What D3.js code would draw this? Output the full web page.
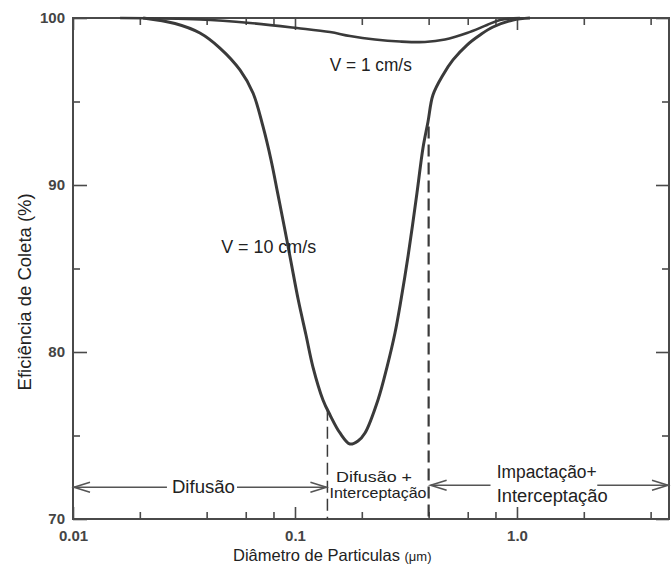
<!DOCTYPE html>
<html>
<head>
<meta charset="utf-8">
<script src="https://cdnjs.cloudflare.com/ajax/libs/d3/7.8.5/d3.min.js"></script>
<style>
  html, body { margin: 0; padding: 0; background: #fff; }
  svg { display: block; }
  text { font-family: "Liberation Sans", Arial, Helvetica, sans-serif; }
</style>
</head>
<body>
<div id="chart"></div>
<script>
// ---------- data ----------
// V = 10 cm/s curve: particle diameter (µm) and collection efficiency (%)
const v10Diam = [0.0207, 0.0288, 0.0373, 0.0459, 0.0565, 0.0647, 0.0718, 0.0780, 0.0836, 0.0895,
                 0.0956, 0.1035, 0.1121, 0.1205, 0.1337, 0.1438, 0.1595, 0.1769, 0.1922, 0.2067,
                 0.2365, 0.2597, 0.2821, 0.3002, 0.3228, 0.3544, 0.3772, 0.3972, 0.4183, 0.4642,
                 0.5149, 0.5954, 0.6815, 0.7798, 0.9594, 1.144];
const v10Eff  = [100, 99.67, 99.10, 98.20, 96.89, 95.51, 93.49, 91.50, 89.50, 87.50,
                 85.51, 83.11, 81.02, 79.10, 77.13, 76.23, 75.15, 74.49, 74.67, 75.15,
                 77.13, 79.10, 81.14, 83.11, 85.70, 89.52, 92.22, 93.77, 95.39, 96.59,
                 97.49, 98.38, 98.98, 99.46, 99.88, 100];
// V = 1 cm/s curve
const v1Diam = [0.0163, 0.0373, 0.0627, 0.1021, 0.1438, 0.1769, 0.2293, 0.2971, 0.3851, 0.4739,
                0.5954, 0.7326, 0.8383, 1.031];
const v1Eff  = [100, 99.91, 99.70, 99.40, 99.16, 98.92, 98.71, 98.59, 98.56, 98.71,
                99.10, 99.58, 99.88, 100];

// regime boundaries (µm) and where the dashed lines start (%)
const boundaries = [0.14, 0.4];
const boundaryTop = [76.6, 93.5];

// axes
const xDomain = [0.01, 4.84];
const yDomain = [70, 100];
const xMinorTicks = [0.02, 0.04, 0.06, 0.08, 0.2, 0.4, 0.6, 0.8, 2, 4];
const xMajorTicks = [0.01, 0.1, 1];
const xTickLabels = ["0.01", "0.1", "1.0"];
const yMinorTicks = [75, 85, 95];
const yMajorTicks = [70, 80, 90, 100];
const yTickLabels = ["70", "80", "90", "100"];

// texts
const xTitle = "Diâmetro de Particulas";
const xUnit = "(μm)";
const yTitle = "Eficiência de Coleta (%)";
const labelV1 = "V = 1 cm/s";
const labelV10 = "V = 10 cm/s";
const regionDiff = "Difusão";
const regionMid = ["Difusão +", "Interceptação"];
const regionRight = ["Impactação+", "Interceptação"];

// ---------- drawing ----------
const W = 671, H = 566;
const margin = {top: 18, right: 2, bottom: 47, left: 73};
const iw = W - margin.left - margin.right;
const ih = H - margin.top - margin.bottom;

const svg = d3.select("#chart").append("svg").attr("width", W).attr("height", H);
const g = svg.append("g").attr("transform", `translate(${margin.left},${margin.top})`);

const x = d3.scaleLog().domain(xDomain).range([0, iw]);
const y = d3.scaleLinear().domain(yDomain).range([ih, 0]);

const ink = "#3a3a3a";

// ticks (inward) via d3 axes
function styleAxis(sel) {
  sel.select(".domain").remove();
  sel.selectAll(".tick line").attr("stroke", "#4a4a4a").attr("stroke-width", 1.6);
}
const fmtX = (d) => xTickLabels[xMajorTicks.indexOf(d)];
const fmtY = (d) => yTickLabels[yMajorTicks.indexOf(d)];

g.append("g").attr("transform", `translate(0,${ih})`)
  .call(d3.axisBottom(x).tickValues(xMinorTicks).tickSize(-7).tickFormat(""))
  .call(styleAxis);
g.append("g").attr("transform", `translate(0,${ih})`)
  .call(d3.axisBottom(x).tickValues(xMajorTicks).tickSize(-12).tickPadding(11).tickFormat(fmtX))
  .call(styleAxis)
  .call(s => s.selectAll("text").attr("font-size", 15).attr("font-weight", "bold").attr("fill", "#444"));

g.append("g")
  .call(d3.axisTop(x).tickValues(xMinorTicks).tickSize(-7).tickFormat(""))
  .call(styleAxis);
g.append("g")
  .call(d3.axisTop(x).tickValues(xMajorTicks).tickSize(-12).tickFormat(""))
  .call(styleAxis);

g.append("g")
  .call(d3.axisLeft(y).tickValues(yMinorTicks).tickSize(-7).tickFormat(""))
  .call(styleAxis);
g.append("g")
  .call(d3.axisLeft(y).tickValues(yMajorTicks).tickSize(-14).tickPadding(8).tickFormat(fmtY))
  .call(styleAxis)
  .call(s => s.selectAll("text").attr("font-size", 15).attr("font-weight", "bold").attr("fill", "#444"));

g.append("g").attr("transform", `translate(${iw},0)`)
  .call(d3.axisRight(y).tickValues(yMinorTicks).tickSize(-7).tickFormat(""))
  .call(styleAxis);
g.append("g").attr("transform", `translate(${iw},0)`)
  .call(d3.axisRight(y).tickValues(yMajorTicks).tickSize(-13).tickFormat(""))
  .call(styleAxis);

// frame
g.append("rect").attr("x", x(xDomain[0])).attr("y", y(yDomain[1]))
  .attr("width", x(xDomain[1]) - x(xDomain[0])).attr("height", y(yDomain[0]) - y(yDomain[1]))
  .attr("fill", "none").attr("stroke", "#4a4a4a").attr("stroke-width", 2);

// dashed boundaries
g.selectAll(".bound").data(boundaries).join("line")
  .attr("x1", d => x(d)).attr("x2", d => x(d))
  .attr("y1", (d, i) => y(boundaryTop[i])).attr("y2", y(yDomain[0]))
  .attr("stroke", ink).attr("stroke-width", (d, i) => i === 0 ? 1.5 : 2.2)
  .attr("stroke-dasharray", "12,6");

// curves
const line = d3.line().x(d => x(d[0])).y(d => y(d[1])).curve(d3.curveCatmullRom.alpha(0.5));
const v10 = v10Diam.map((d, i) => [d, v10Eff[i]]);
const v1 = v1Diam.map((d, i) => [d, v1Eff[i]]);
g.append("path").datum(v1).attr("d", line)
  .attr("fill", "none").attr("stroke", ink).attr("stroke-width", 2.6);
g.append("path").datum(v10).attr("d", line)
  .attr("fill", "none").attr("stroke", ink).attr("stroke-width", 3);

// curve labels
g.append("text").attr("x", x(0.1435)).attr("y", y(96.83)).text(labelV1)
  .attr("font-size", 17.5).attr("fill", "#222").attr("textLength", 82).attr("lengthAdjust", "spacingAndGlyphs");
g.append("text").attr("x", x(0.0465)).attr("y", y(85.93)).text(labelV10)
  .attr("font-size", 18).attr("fill", "#222").attr("textLength", 95).attr("lengthAdjust", "spacingAndGlyphs");

// arrows
function arrow(x1, x2, yy) {
  // arrow pointing toward x2
  const dir = Math.sign(x2 - x1);
  const len = 16, hw = 5;
  g.append("line").attr("x1", x1).attr("x2", x2).attr("y1", yy).attr("y2", yy)
    .attr("stroke", "#555").attr("stroke-width", 1.6);
  g.append("path")
    .attr("d", `M${x2 - dir * len},${yy - hw} L${x2},${yy} L${x2 - dir * len},${yy + hw}`)
    .attr("fill", "none").attr("stroke", "#555").attr("stroke-width", 1.6);
}
const yArrow = y(71.9);
arrow(x(0.0265), x(xDomain[0]) + 1, yArrow);
arrow(x(0.0548), x(boundaries[0]) - 1, yArrow);
arrow(x(0.76), x(boundaries[1]) + 2, yArrow - 2);
arrow(x(2.3), x(xDomain[1]) - 1, yArrow - 2);

// region labels
g.append("text").attr("x", x(0.0387)).attr("y", y(71.56)).attr("text-anchor", "middle")
  .attr("font-size", 18.5).attr("fill", "#222").text(regionDiff)
  .attr("textLength", 63).attr("lengthAdjust", "spacingAndGlyphs");

const midX = (x(boundaries[0]) + x(boundaries[1])) / 2;
g.append("text").attr("x", midX - 4).attr("y", y(72.2)).attr("text-anchor", "middle")
  .attr("font-size", 14.5).attr("fill", "#222").text(regionMid[0])
  .attr("textLength", 76).attr("lengthAdjust", "spacingAndGlyphs");
g.append("text").attr("x", midX).attr("y", y(71.26)).attr("text-anchor", "middle")
  .attr("font-size", 14.5).attr("fill", "#222").text(regionMid[1])
  .attr("textLength", 97).attr("lengthAdjust", "spacingAndGlyphs");

g.append("text").attr("x", x(0.81)).attr("y", y(72.46)).attr("text-anchor", "start")
  .attr("font-size", 18).attr("fill", "#222").text(regionRight[0])
  .attr("textLength", 100).attr("lengthAdjust", "spacingAndGlyphs");
g.append("text").attr("x", x(0.81)).attr("y", y(71.02)).attr("text-anchor", "start")
  .attr("font-size", 18).attr("fill", "#222").text(regionRight[1])
  .attr("textLength", 111).attr("lengthAdjust", "spacingAndGlyphs");

// axis titles
const xt = svg.append("text").attr("x", 233).attr("y", 561).attr("fill", "#222");
xt.append("tspan").attr("font-size", 16.5).text(xTitle + " ");
xt.append("tspan").attr("font-size", 13).text(xUnit);

svg.append("text").attr("transform", `translate(31,${margin.top + y(83.6)}) rotate(-90)`)
  .attr("text-anchor", "middle").attr("font-size", 18).attr("fill", "#222")
  .attr("textLength", 197).attr("lengthAdjust", "spacingAndGlyphs").text(yTitle);
</script>
</body>
</html>
